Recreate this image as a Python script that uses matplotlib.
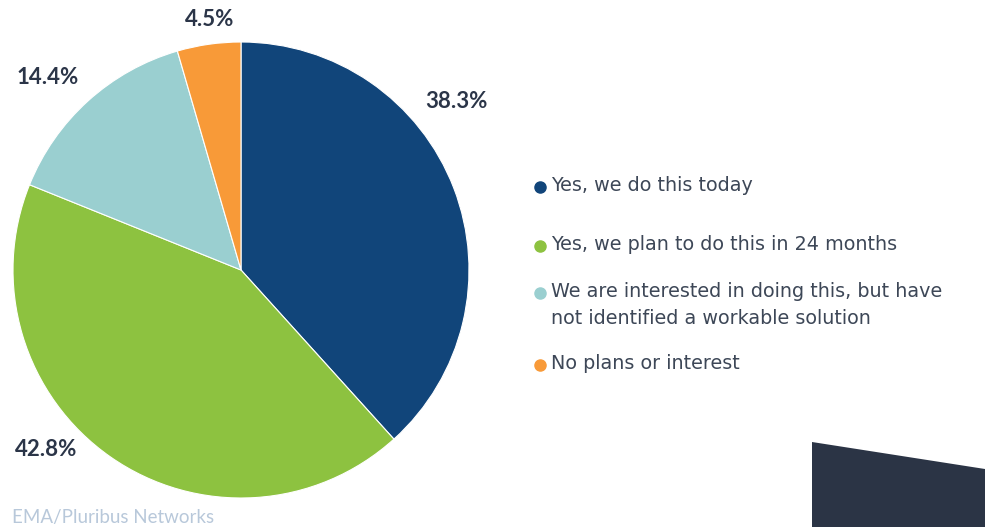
import matplotlib.pyplot as plt
from matplotlib.patches import Polygon

# Anteile der Antworten (Prozent)
categories = [
    "Yes, we do this today",
    "Yes, we plan to do this in 24 months",
    "We are interested in doing this, but have\nnot identified a workable solution",
    "No plans or interest",
]
values = [38.3, 42.8, 14.4, 4.5]
colors = ["#11457a", "#8dc240", "#9acfd0", "#f89a38"]
source = "EMA/Pluribus Networks"

W, H = 985, 527
fig = plt.figure(figsize=(W / 100, H / 100), dpi=100)
ax = fig.add_axes([0, 0, 1, 1])

# Kreisdiagramm im Uhrzeigersinn ab 12 Uhr
ax.pie(values, colors=colors, startangle=90, counterclock=False,
       center=(241, H - 270), radius=228, frame=True,
       wedgeprops=dict(linewidth=0.8, edgecolor="white"))

# Prozentwerte neben den Segmenten
label_pos = [(456, 101), (46, 450), (48, 78), (210, 19)]
for v, (x, y) in zip(values, label_pos):
    ax.text(x, H - y, f"{v:.1f}%", ha="center", va="center",
            fontsize=16, fontweight="bold", color="#2b3548", family="Lato")

# Legende von Hand
legend_y = [187, 246, 293, 365]
for lab, c, y in zip(categories, colors, legend_y):
    ax.plot(540, H - y, "o", color=c, markersize=8)
    ax.text(551, H - y + 11, lab, ha="left", va="top", fontsize=13.8,
            color="#3d4757", family="DejaVu Sans", linespacing=1.5)

# Quelle
ax.text(12, H - 517, source, ha="left", va="center", fontsize=13.5,
        color="#b8c8da", family="Lato")

# dunkle Fläche unten rechts
ax.add_patch(Polygon([(812, H - 442), (985, H - 469), (985, 0), (812, 0)],
                     closed=True, color="#2b3445", linewidth=0))

ax.set_xlim(0, W)
ax.set_ylim(0, H)
ax.set_aspect("equal")
ax.axis("off")

fig.savefig("out.png", dpi=100)
